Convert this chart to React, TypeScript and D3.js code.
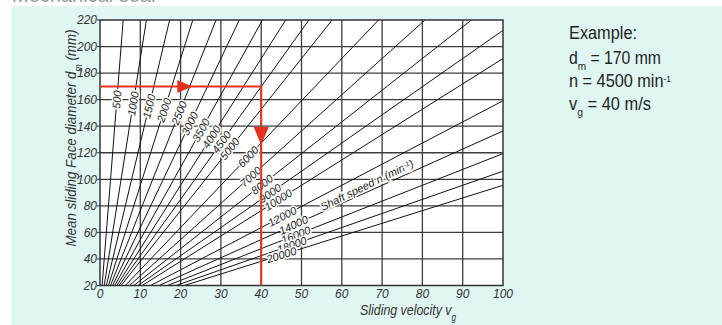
import React from "react";
import * as d3 from "d3";

const speeds = [500, 1000, 1500, 2000, 2500, 3000, 3500, 4000, 4500, 5000, 6000, 7000, 8000, 9000, 10000, 12000, 14000, 16000, 18000, 20000];
const labelDiameter = [160, 157, 155, 152, 150, 142, 137, 132, 128, 123, 117, 102, 96, 89.5, 84.5, 72, 65.5, 58, 50.5, 43];
const xTicks = [0, 10, 20, 30, 40, 50, 60, 70, 80, 90, 100];
const yTicks = [20, 40, 60, 80, 100, 120, 140, 160, 180, 200, 220];
const exampleD = 170;
const exampleN = 4500;
const exampleV = 40;

const W = 722, H = 325;
const x = d3.scaleLinear().domain([0, 100]).range([100, 503]);
const y = d3.scaleLinear().domain([20, 220]).range([285.5, 20]);
const vOf = (d: number, n: number) => (Math.PI * d * n) / 60000;
const dOf = (v: number, n: number) => (60000 * v) / (Math.PI * n);

const FONT = "'Liberation Sans', Arial, Helvetica, sans-serif";
const RED = "#e5311f";

export default function App() {
  const lineGen = d3.line<[number, number]>().x((p) => x(p[0])).y((p) => y(p[1]));
  const seg = (n: number): [number, number][] => {
    const v0 = vOf(20, n);
    let v1 = 100, d1 = dOf(100, n);
    if (d1 > 220) { d1 = 220; v1 = vOf(220, n); }
    return [[v0, 20], [v1, d1]];
  };
  const hTip = 22.9, vTip = 125.8;
  return (
    <svg width={W} height={H} style={{ position: "absolute", left: 0, top: 0 }} fontFamily={FONT}>
      <rect x={0} y={0} width={W} height={H} fill="#ffffff" />
      <text x={12} y={1.5} fontSize={20} fill="#9a9a9a">Mechanical seal</text>
      <rect x={11} y={6} width={W - 11} height={H - 6} fill="#dff6f2" />
      <rect x={x(0)} y={y(220)} width={x(100) - x(0)} height={y(20) - y(220)} fill="#ffffff" />
      {xTicks.slice(1, -1).map((t) => (
        <line key={"gx" + t} x1={x(t)} x2={x(t)} y1={y(20)} y2={y(220)} stroke="#3c3c3c" strokeWidth={1.3} />
      ))}
      {yTicks.slice(1, -1).map((t) => (
        <line key={"gy" + t} x1={x(0)} x2={x(100)} y1={y(t)} y2={y(t)} stroke="#3c3c3c" strokeWidth={1.3} />
      ))}
      <g clipPath="url(#plotclip)">
        <defs>
          <clipPath id="plotclip">
            <rect x={x(0)} y={y(220)} width={x(100) - x(0)} height={y(20) - y(220)} />
          </clipPath>
        </defs>
        {speeds.map((n) => (
          <path key={"l" + n} d={lineGen(seg(n)) || ""} stroke="#111" strokeWidth={1} fill="none" />
        ))}
      </g>
      {speeds.map((n, i) => {
        const d = labelDiameter[i];
        const v = vOf(d, n);
        const p = seg(n);
        const ang = (Math.atan2(y(p[1][1]) - y(p[0][1]), x(p[1][0]) - x(p[0][0])) * 180) / Math.PI;
        return (
          <text key={"t" + n} transform={`translate(${x(v)},${y(d)}) rotate(${ang})`} textAnchor="middle" dy="0.35em"
            fontSize={11} fontStyle="italic" fill="#222" stroke="#fff" strokeWidth={3} paintOrder="stroke" strokeLinejoin="round">
            {n}
          </text>
        );
      })}
      <text transform="translate(367,185) rotate(-26)" textAnchor="middle" dy="0.35em" fontSize={11} fontStyle="italic"
        fill="#222" stroke="#fff" strokeWidth={3} paintOrder="stroke">
        Shaft speed n (min<tspan baselineShift="super" fontSize={7}>-1</tspan>)
      </text>
      <rect x={x(0)} y={y(220)} width={x(100) - x(0)} height={y(20) - y(220)} fill="none" stroke="#333" strokeWidth={1.5} />
      {yTicks.map((t) => (
        <g key={"yt" + t}>
          <line x1={x(0) - 3} x2={x(0)} y1={y(t)} y2={y(t)} stroke="#333" strokeWidth={1} />
          <text x={x(0) - 3} y={y(t)} dy="0.36em" textAnchor="end" fontSize={12} fontStyle="italic" fill="#333">{t}</text>
        </g>
      ))}
      {xTicks.map((t) => (
        <text key={"xt" + t} x={x(t)} y={298} textAnchor="middle" fontSize={12} fontStyle="italic" fill="#333">{t}</text>
      ))}
      <text x={408} y={315} textAnchor="middle" fontSize={15.5} fontStyle="italic" fill="#333" textLength={96} lengthAdjust="spacingAndGlyphs">
        Sliding velocity v<tspan baselineShift="sub" fontSize={10}>g</tspan>
      </text>
      <text transform="translate(76,138) rotate(-90)" textAnchor="middle" fontSize={15.5} fontStyle="italic" fill="#333" textLength={217} lengthAdjust="spacingAndGlyphs">
        Mean sliding Face diameter d<tspan baselineShift="sub" fontSize={10}>m</tspan> (mm)
      </text>
      <path d={lineGen([[0, exampleD], [exampleV, exampleD], [exampleV, 20]]) || ""} fill="none" stroke={RED} strokeWidth={2} />
      <path d={`M${x(hTip)},${y(exampleD)} L${x(hTip) - 15},${y(exampleD) - 6.5} L${x(hTip) - 15},${y(exampleD) + 6.5} Z`} fill={RED} />
      <path d={`M${x(exampleV)},${y(vTip)} L${x(exampleV) - 7.5},${y(vTip) - 18} L${x(exampleV) + 7.5},${y(vTip) - 18} Z`} fill={RED} />
      <g fontSize={17.5} fill="#222">
        <text x={569} y={39} textLength={68} lengthAdjust="spacingAndGlyphs">Example:</text>
        <text x={569} y={64} textLength={92} lengthAdjust="spacingAndGlyphs">
          d<tspan baselineShift="sub" fontSize={11}>m</tspan> = {exampleD} mm
        </text>
        <text x={569} y={87} textLength={102} lengthAdjust="spacingAndGlyphs">
          n = {exampleN} min<tspan baselineShift="super" fontSize={9}>-1</tspan>
        </text>
        <text x={569} y={110} textLength={82} lengthAdjust="spacingAndGlyphs">
          v<tspan baselineShift="sub" fontSize={11}>g</tspan> = {exampleV} m/s
        </text>
      </g>
    </svg>
  );
}
